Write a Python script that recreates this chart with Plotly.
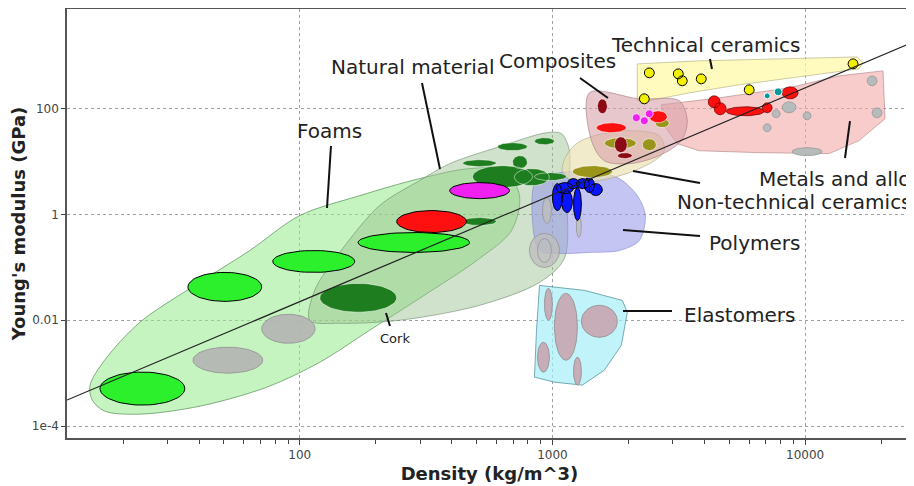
import numpy as np
import plotly.graph_objects as go

# bubbles: (density lo, density hi [kg/m^3], modulus lo, modulus hi [GPa])
foams_flexible = [(16.2, 35.1, 2.49e-4, 1.05e-3), (36.1, 70.7, 0.0228, 0.0805),
                  (78.2, 165, 0.0805, 0.209), (170, 470, 0.192, 0.457)]
foams_grey = [(37.8, 71.4, 1.0e-3, 3.1e-3), (70.7, 115, 3.68e-3, 0.013)]
natural_wood = [(242, 457, 0.457, 1.19)]
natural_bamboo = [(392, 676, 2.0, 4.02)]
natural_dark = [(120, 242, 0.0142, 0.0499), (441, 600, 0.62, 0.877),
                (606, 796, 16.1, 22.8), (849, 1018, 20.9, 28.4), (441, 600, 8.05, 10.9),
                (695, 796, 7.38, 13.0), (483, 834, 3.23, 8.41), (707, 973, 3.52, 7.38),
                (849, 1136, 4.38, 6.2)]
polymers_grey = [(811, 1066, 0.1, 0.44), (873, 991, 0.124, 0.352),
                 (913, 991, 0.676, 2.09), (1243, 1302, 0.368, 1.0)]
polymers_blue = [(1000, 1095, 1.19, 3.85), (1086, 1200, 1.09, 2.84), (1212, 1302, 0.77, 3.23),
                 (1037, 1212, 2.49, 4.02), (1146, 1278, 3.09, 4.78), (1243, 1400, 3.09, 4.78),
                 (1338, 1466, 2.60, 4.99), (1400, 1576, 2.28, 3.85), (1363, 1428, 4.38, 5.44)]
elastomers = [(930, 1000, 0.01, 0.0402), (1018, 1256, 1.76e-3, 0.0323), (1302, 1807, 4.78e-3, 0.0192),
              (873, 973, 1.045e-3, 3.85e-3), (1212, 1302, 5.94e-4, 2.0e-3)]
nontech_ceramics = [(1200, 1727, 4.99, 8.41)]
composites_darkred = [(1506, 1650, 80.5, 154), (1759, 1979, 14.8, 29.6), (1807, 2071, 11.4, 14.8)]
composites_red = [(1492, 1961, 35.2, 54.4), (2417, 2848, 54.4, 91.7)]
composites_olive = [(1605, 2148, 17.6, 28.4), (2268, 2577, 16.1, 27.2), (2553, 2900, 43.8, 64.8)]
composites_magenta = [(2071, 2228, 56.9, 80.5), (2228, 2395, 49.9, 70.6), (2332, 2507, 67.6, 95.7)]
tech_ceramics = [(2310, 2531, 385, 594), (3008, 3295, 368, 569), (3120, 3417, 272, 420),
                 (3708, 4062, 296, 457), (5741, 6286, 184, 284), (2208, 2417, 124, 192),
                 (14790, 16200, 569, 878)]
metals_red = [(4137, 4613, 104, 176), (4368, 4872, 77.1, 130), (4872, 6885, 73.8, 109),
              (6761, 7405, 84.1, 130), (8113, 9381, 154, 260)]
metals_teal = [(6885, 7281, 154, 200), (7544, 8113, 176, 249)]
metals_grey = [(8113, 9213, 84.1, 135), (9820, 10560, 62, 87.8), (6823, 7337, 36.8, 52.1),
               (8883, 11680, 13.0, 18.4), (17590, 19260, 272, 420), (18400, 20150, 67.6, 104),
               (7405, 7970, 67.6, 95.7)]

# family envelopes (density, modulus)
foams_env_rho = [15.1, 14.8, 16.9, 23.3, 36.8, 63.4, 100, 173, 298, 470, 646, 741, 689, 515,
                 298, 189, 120, 74.1, 40.3, 23.3, 16.9]
foams_env_E = [3.1e-4, 5.94e-4, 1.76e-3, 9.17e-3, 0.0402, 0.209, 0.957, 2.28, 4.78, 7.38, 6.76,
               2.28, 0.499, 0.148, 0.026, 6.47e-3, 1.61e-3, 5.44e-4, 2.38e-4, 1.68e-4, 1.92e-4]
natural_env_rho = [109.5, 114.6, 144, 207, 298, 392, 618, 947, 1086, 1167, 1146, 1115, 889, 515, 248, 144]
natural_env_E = [0.01, 0.0368, 0.192, 1.48, 4.38, 9.17, 19.2, 35.2, 33.7, 16.1, 1.84, 0.148,
                 0.0521, 0.0192, 0.01, 8.78e-3]
polymers_env_rho = [865, 1066, 1535, 1840, 2168, 2332, 2208, 1840, 1400, 1066, 889, 834]
polymers_env_E = [4.78, 6.2, 6.2, 4.78, 2.28, 0.957, 0.323, 0.209, 0.192, 0.184, 0.209, 0.77]
elast_env_rho = [889, 1338, 1891, 1979, 1874, 1605, 1314, 1018, 849, 865]
elast_env_E = [0.0457, 0.0368, 0.0238, 0.01416, 3.37e-3, 1.14e-3, 5.94e-4, 6.76e-4, 8.41e-4, 6.47e-3]
nontech_env_rho = [1095, 1136, 1243, 1466, 2015, 2648, 2772, 2531, 2015, 1535, 1222]
nontech_env_E = [6.76, 13.0, 21.9, 31.0, 38.5, 31.0, 16.1, 10.4, 6.2, 4.38, 4.02]
comp_env_rho = [1400, 2208, 3176, 3417, 3235, 2648, 2015, 1605, 1427]
comp_env_E = [200, 154, 142, 59, 25.0, 13.0, 9.17, 10.4, 25.0]
tech_env_rho = [2168, 3811, 7889, 16050, 16950, 16350, 9470, 5483, 3479, 2417, 2168]
tech_env_E = [706, 806, 878, 957, 738, 569, 402, 284, 200, 142, 142]
metals_env_rho = [2697, 4572, 8646, 13630, 20340, 20710, 16350, 12440, 6580, 3811, 3120, 2772]
metals_env_E = [119, 161, 249, 420, 521, 64.7, 25.0, 14.2, 14.8, 16.1, 21.9, 47.7]

# E/rho^2 guide line
guide_rho = [12, 26500]
guide_E = [3.1e-4, 1780]


def ellipse_paths(ranges, n=64):
    t = np.linspace(0, 2 * np.pi, n)
    xs, ys = [], []
    for r0, r1, e0, e1 in ranges:
        cx, rx = (np.log10(r0) + np.log10(r1)) / 2, (np.log10(r1) - np.log10(r0)) / 2
        cy, ry = (np.log10(e0) + np.log10(e1)) / 2, (np.log10(e1) - np.log10(e0)) / 2
        xs += list(10 ** (cx + rx * np.cos(t))) + [None]
        ys += list(10 ** (cy + ry * np.sin(t))) + [None]
    return xs, ys


fig = go.Figure()


def add_env(rho, E, fill, line, spline=True):
    fig.add_trace(go.Scatter(x=rho + rho[:1], y=E + E[:1], mode="lines", fill="toself",
                             fillcolor=fill, line=dict(color=line, width=1,
                                                       shape="spline" if spline else "linear",
                                                       smoothing=0.9),
                             hoverinfo="skip"))


def add_bubbles(ranges, fill, line="black", width=1):
    xs, ys = ellipse_paths(ranges)
    fig.add_trace(go.Scatter(x=xs, y=ys, mode="lines", fill="toself", fillcolor=fill,
                             line=dict(color=line, width=width), hoverinfo="skip"))


add_env(foams_env_rho, foams_env_E, "rgba(150,235,140,0.55)", "rgba(90,140,90,0.7)")
add_env(natural_env_rho, natural_env_E, "rgba(150,190,140,0.45)", "rgba(110,140,110,0.6)")
add_env(polymers_env_rho, polymers_env_E, "rgba(150,150,235,0.55)", "rgba(120,120,200,0.5)")
add_env(elast_env_rho, elast_env_E, "rgba(165,240,248,0.7)", "rgba(90,150,160,0.8)", spline=False)
add_env(metals_env_rho, metals_env_E, "rgba(245,170,170,0.6)", "rgba(170,130,130,0.6)", spline=False)
add_env(tech_env_rho, tech_env_E, "rgba(255,250,170,0.75)", "rgba(170,170,120,0.6)", spline=False)
add_env(nontech_env_rho, nontech_env_E, "rgba(235,225,175,0.65)", "rgba(170,165,130,0.6)")
add_env(comp_env_rho, comp_env_E, "rgba(215,160,170,0.6)", "rgba(160,120,130,0.6)")

add_bubbles(foams_grey, "rgba(180,180,180,0.9)", "rgba(150,150,150,0.9)")
add_bubbles(foams_flexible, "#2cf02c")
add_bubbles(natural_dark, "#1e7d1e", "rgba(255,255,255,0.5)")
add_bubbles(natural_wood, "#ff1010")
add_bubbles(natural_bamboo, "#f020f0")
add_bubbles(polymers_grey, "rgba(190,190,190,0.8)", "rgba(150,150,150,0.8)")
add_bubbles(polymers_blue, "#0a14ff")
add_bubbles(elastomers, "rgba(200,165,175,0.9)", "rgba(140,140,140,0.8)")
add_bubbles(nontech_ceramics, "#9a9418", "rgba(255,255,255,0.6)")
add_bubbles(composites_olive, "#9a9418", "rgba(255,255,255,0.6)")
add_bubbles(composites_darkred, "#8b0a14", "rgba(255,255,255,0.6)")
add_bubbles(composites_red, "#ff1010", "rgba(255,255,255,0.6)")
add_bubbles(composites_magenta, "#f020f0", "rgba(255,255,255,0.6)")
add_bubbles(metals_grey, "rgba(175,185,185,0.9)", "rgba(150,150,150,0.8)")
add_bubbles(metals_red, "#ff1010", "rgba(120,0,0,0.8)")
add_bubbles(metals_teal, "#009c9c", "white")
add_bubbles(tech_ceramics, "#f2ef00")

fig.add_trace(go.Scatter(x=guide_rho, y=guide_E, mode="lines",
                         line=dict(color="#222", width=1.2), hoverinfo="skip"))

# labels: text, x, y (paper), anchor, size, leader (x0, y0, x1, y1)
labels = [
    ("Foams", 0.311, 0.716, "center", 20, (0.3124, 0.6807, 0.3077, 0.5361)),
    ("Natural material", 0.4095, 0.8648, "center", 20, (0.4201, 0.8275, 0.4414, 0.6270)),
    ("Composites", 0.5799, 0.8788, "center", 20, (0.6071, 0.8392, 0.6402, 0.7925)),
    ("Technical ceramics", 0.7562, 0.9161, "center", 20, (0.7609, 0.8834, 0.7633, 0.8601)),
    ("Metals and alloys", 0.8166, 0.6037, "left", 20, (0.9266, 0.7389, 0.9207, 0.6527)),
    ("Non-technical ceramics", 0.7195, 0.5501, "left", 20, (0.6698, 0.6224, 0.7491, 0.5944)),
    ("Polymers", 0.7574, 0.4545, "left", 20, (0.6580, 0.4848, 0.7491, 0.4709)),
    ("Elastomers", 0.7278, 0.2867, "left", 20, (0.6580, 0.2960, 0.7160, 0.2960)),
    ("Cork", 0.3882, 0.2331, "center", 13, (0.3775, 0.2914, 0.3822, 0.2611)),
]
for text, lx, ly, anchor, size, (x0, y0, x1, y1) in labels:
    fig.add_annotation(text=text, x=lx, y=ly, xref="paper", yref="paper", xanchor=anchor,
                       yanchor="middle", showarrow=False,
                       font=dict(family="DejaVu Sans", size=size, color="#222"))
    fig.add_shape(type="line", xref="paper", yref="paper", x0=x0, y0=y0, x1=x1, y1=y1,
                  line=dict(color="#111", width=2))

minor_x = [m * 10 ** e for e in range(1, 5) for m in range(2, 10)]

fig.update_xaxes(type="log", range=[1.079, 4.423], tickvals=[100, 1000, 10000],
                 ticktext=["100", "1000", "10000"], ticks="outside", ticklen=5,
                 tickcolor="#444", showgrid=True, gridcolor="#a0a0a0", griddash="3px,3px",
                 showline=True, linecolor="#555", linewidth=1.5, mirror=True, zeroline=False,
                 tickfont=dict(size=12, color="#444"), automargin=False,
                 minor=dict(tickvals=minor_x, ticks="outside", ticklen=4, tickcolor="#444",
                            showgrid=False),
                 title=dict(text="<b>Density (kg/m^3)</b>", font=dict(size=18, color="#222"),
                            standoff=6))
fig.update_yaxes(type="log", range=[-4.226, 3.887], tickvals=[1e-4, 0.01, 1, 100],
                 ticktext=["1e-4", "0.01", "1", "100"], ticks="outside", ticklen=4,
                 tickcolor="#444", showgrid=True, gridcolor="#a0a0a0", griddash="3px,3px",
                 showline=True, linecolor="#555", linewidth=1.5, mirror=True, zeroline=False,
                 tickfont=dict(size=12, color="#444"), automargin=False,
                 title=dict(text="<b>Young's modulus (GPa)</b>", font=dict(size=18, color="#222"),
                            standoff=6))
# the page body adds an 8px offset, so the figure is sized to the visible area
fig.update_layout(width=906, height=478, margin=dict(l=59, r=2, t=1, b=48),
                  plot_bgcolor="white", paper_bgcolor="white", showlegend=False,
                  font=dict(family="DejaVu Sans"))

fig.write_html("out.html")
